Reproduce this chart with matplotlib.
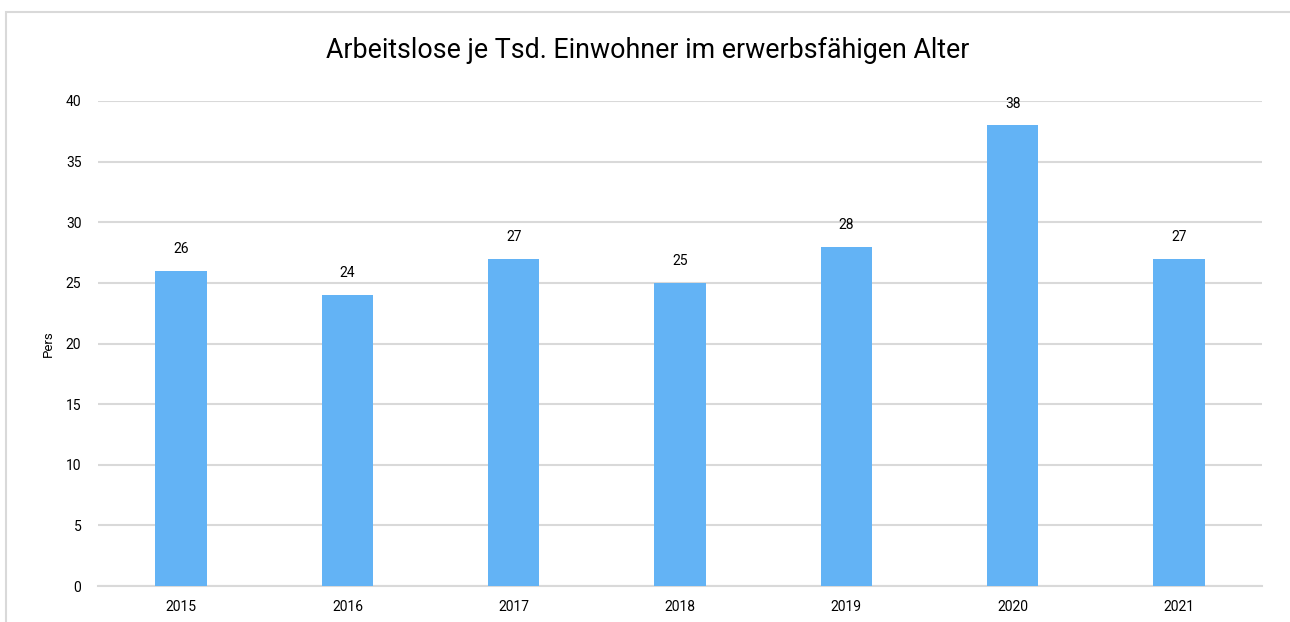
import matplotlib
matplotlib.use("Agg")
import matplotlib.pyplot as plt
from matplotlib.patches import Rectangle

years = ["2015", "2016", "2017", "2018", "2019", "2020", "2021"]
values = [26, 24, 27, 25, 28, 38, 27]
yticks = [0, 5, 10, 15, 20, 25, 30, 35, 40]

plt.rcParams['font.family'] = ['Roboto', 'DejaVu Sans']

fig = plt.figure(figsize=(12.9, 6.22), dpi=100)
ax = fig.add_axes([98 / 1290, 1 - 586 / 622, (1262 - 98) / 1290, (586 - 101) / 622])

# outer chart border (cut off at right and bottom)
fig.patches.append(Rectangle((6 / 1290, -0.2), 1.2, 1.2 - 12 / 622,
                             transform=fig.transFigure, fill=False,
                             edgecolor='#D9D9D9', linewidth=1.5))

x = range(len(years))
bars = ax.bar(x, values, width=0.31, color='#63B3F5', zorder=3)
for xi, v in zip(x, values):
    ax.text(xi, v + 1.2, str(v), ha='center', va='bottom', fontsize=10, color='#000000')

ax.set_xlim(-0.5, len(years) - 0.5)
ax.set_ylim(0, 40)
ax.set_yticks(yticks)
ax.set_xticks(list(x))
ax.set_xticklabels(years)
ax.grid(axis='y', color='#D9D9D9', linewidth=1.5, zorder=0)
for s in ['top', 'right', 'left']:
    ax.spines[s].set_visible(False)
ax.spines['bottom'].set_color('#D9D9D9')
ax.spines['bottom'].set_linewidth(1.5)
ax.tick_params(axis='both', length=0, labelsize=10, colors='#000000')
ax.tick_params(axis='y', pad=12)
ax.tick_params(axis='x', pad=10)
ax.set_ylabel("Pers", fontsize=9.5, labelpad=8)

fig.text(648 / 1290, 1 - 50 / 622, "Arbeitslose je Tsd. Einwohner im erwerbsfähigen Alter",
         ha='center', va='center', fontsize=19.3)

fig.savefig("out.png", dpi=100)
